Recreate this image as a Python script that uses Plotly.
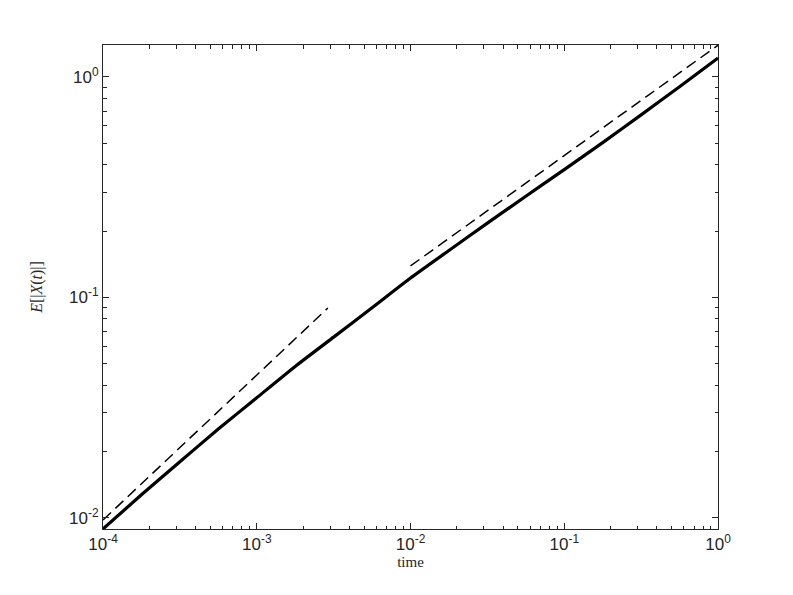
import plotly.graph_objects as go

# Solid curve E[|X(t)|]
t_vals = [1e-4, 1.778e-4, 3.162e-4, 5.623e-4, 1e-3, 1.778e-3, 3.162e-3, 5.623e-3,
          1e-2, 1.778e-2, 3.162e-2, 5.623e-2, 1e-1, 1.778e-1, 3.162e-1, 5.623e-1, 1.0]
ex_vals = [0.00891, 0.01274, 0.01799, 0.02529, 0.03508, 0.04864, 0.06607, 0.08974,
           0.12246, 0.16331, 0.21727, 0.28774, 0.38019, 0.50350, 0.67298, 0.90365, 1.21899]

# Dashed reference lines
ref1_t = [1e-4, 2.9e-3]
ref1_y = [0.00978, 0.0895]
ref2_t = [1e-2, 1.0]
ref2_y = [0.139, 1.393]

x_tickvals = [1e-4, 1e-3, 1e-2, 1e-1, 1e0]
x_ticktext = ["10<sup>-4</sup>", "10<sup>-3</sup>", "10<sup>-2</sup>", "10<sup>-1</sup>", "10<sup>0</sup>"]
y_tickvals = [1e-2, 1e-1, 1e0]
y_ticktext = ["10<sup>-2</sup>", "10<sup>-1</sup>", "10<sup>0</sup>"]

def minor_positions(lo, hi):
    out = []
    for e in range(lo, hi):
        for m in range(2, 10):
            out.append(m * 10.0 ** e)
    return out

fig = go.Figure()
fig.add_trace(go.Scatter(x=ref1_t, y=ref1_y, mode="lines",
                         line=dict(color="black", width=1.5, dash="11px,6px"), showlegend=False))
fig.add_trace(go.Scatter(x=ref2_t, y=ref2_y, mode="lines",
                         line=dict(color="black", width=1.5, dash="11px,6px"), showlegend=False))
fig.add_trace(go.Scatter(x=t_vals, y=ex_vals, mode="lines",
                         line=dict(color="black", width=3.2, shape="spline", smoothing=0.5), showlegend=False))

axis_col = "#262626"
common = dict(showgrid=False, zeroline=False, showline=True, linecolor=axis_col, linewidth=1,
              mirror="allticks", ticks="inside", ticklen=6, tickcolor=axis_col, tickwidth=1,
              automargin=False,
              tickfont=dict(family="Liberation Sans, Arial", size=17, color="#262626"))

fig.update_xaxes(type="log", range=[-4, 0], tickvals=x_tickvals, ticktext=x_ticktext,
                 minor=dict(ticks="inside", ticklen=3.5, tickcolor=axis_col, showgrid=False,
                            tickvals=minor_positions(-4, 0)),
                 title=dict(text="time", font=dict(family="Liberation Serif, Times New Roman", size=15, color="#262626"), standoff=0),
                 **common)
fig.update_yaxes(type="log", range=[-2.0503, 0.145], tickvals=y_tickvals, ticktext=y_ticktext,
                 minor=dict(ticks="inside", ticklen=3.5, tickcolor=axis_col, showgrid=False,
                            tickvals=minor_positions(-3, 1)),
                 title=dict(text="<i>E</i>[|<i>X</i>(<i>t</i>)|]", font=dict(family="Liberation Serif, Times New Roman", size=16, color="#262626"), standoff=22),
                 **common)

fig.update_layout(width=785, height=587, paper_bgcolor="white", plot_bgcolor="white",
                  margin=dict(l=95, r=75, t=37, b=66))

fig.write_html("out.html")
